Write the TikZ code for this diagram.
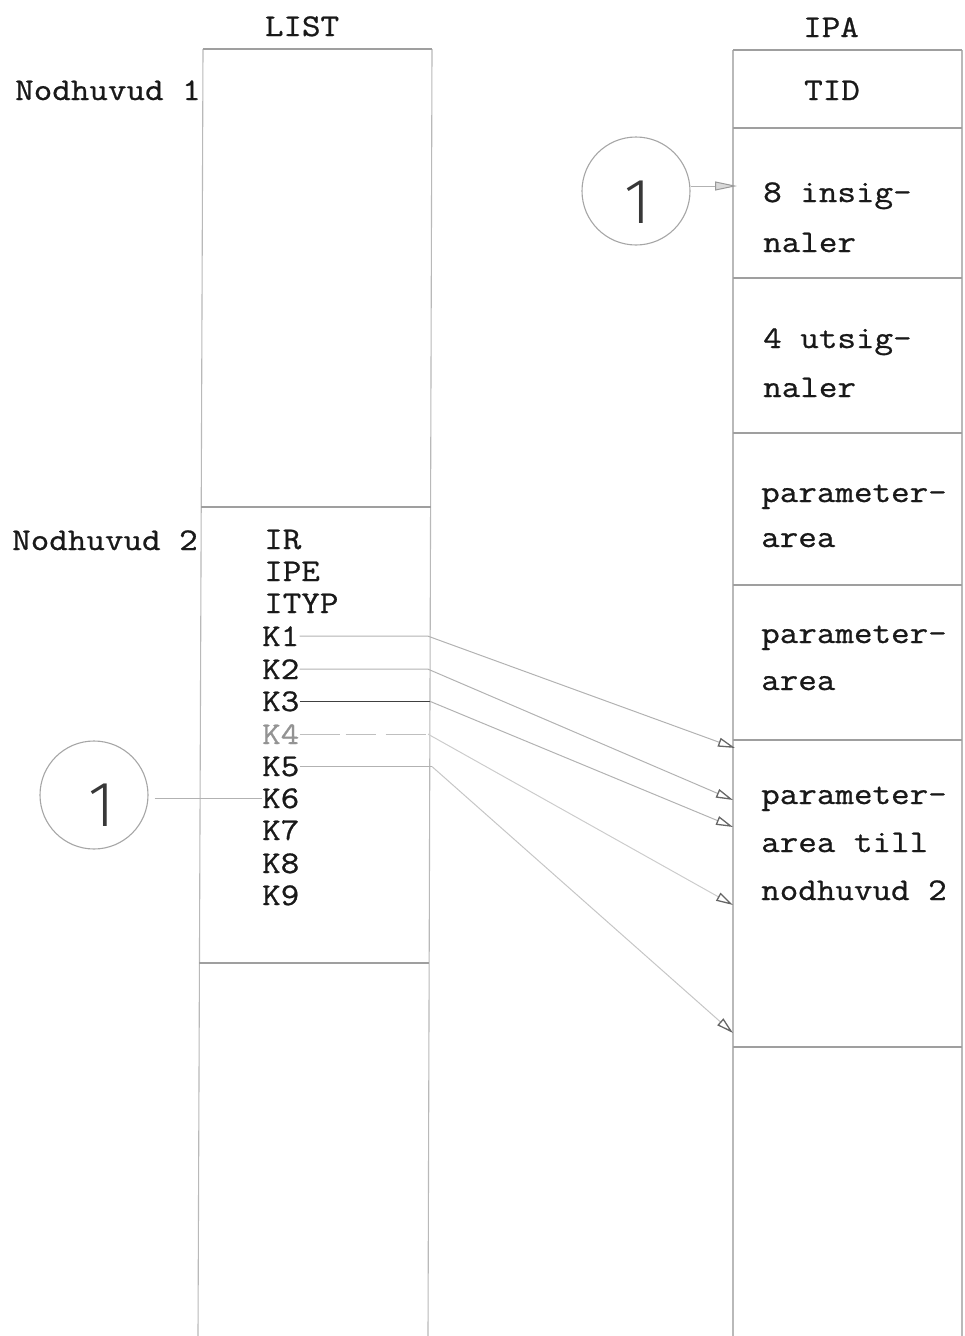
\documentclass[tikz,border=0pt]{standalone}
\usepackage{fontspec}
\setmainfont{Latin Modern Mono}[FakeBold=0.8, FakeStretch=1.14]
\IfFontExistsTF{Fira Sans Light}{\newfontfamily\handfont{Fira Sans Light}}{\newfontfamily\handfont{Fira Sans}}
\usetikzlibrary{arrows.meta}

\tikzset{
  frame/.style={draw=gray!55, line width=1.1pt},
  rule/.style={draw=gray!75, line width=1.3pt},
  txt/.style={inner sep=0pt, anchor=base west, text=black!90,
              font=\fontsize{31.6pt}{34pt}\selectfont},
  ctxt/.style={txt, anchor=base},
  ring/.style={circle, draw=gray!70, line width=1.1pt, minimum size=108pt, inner sep=0pt},
  digit/.style={inner sep=0pt, text=black!78, font=\handfont\fontsize{64pt}{64pt}\selectfont},
  wire/.style={draw=gray!60, line width=1pt},
  ptr/.style={wire, -{Triangle[open, length=17pt, width=9pt, line width=1.3pt, color=gray!80!black]}},
}

\begin{document}
\begin{tikzpicture}[x=1pt, y=-1pt]
\useasboundingbox (0,0) rectangle (964,1336);

% ---- LIST column ----
\draw[frame] (203,49) -- (198,1336);
\draw[frame] (432,49) -- (428,1336);
\draw[rule] (203,49) -- (432,49);
\draw[rule] (201,507) -- (431,507);
\draw[rule] (199,963) -- (429,963);

% ---- IPA column ----
\draw[frame] (733,50) -- (733,1336);
\draw[frame] (962,50) -- (962,1336);
\foreach \y in {50,128,278,433,585,740,1047}
  \draw[rule] (733,\y) -- (962,\y);

% ---- headings ----
\node[ctxt] (list) at (302,36) {LIST};
\node[ctxt] (ipa)  at (831,37) {IPA};
\node[txt] (nh1) at (15,100) {Nodhuvud 1};
\node[txt] (nh2) at (12,550) {Nodhuvud 2};

% ---- IPA fields ----
\node[ctxt] (tid) at (832,100) {TID};
\node[txt] (ins1) at (763,202) {8 insig-};
\node[txt] (ins2) at (763,252) {naler};
\node[txt] (uts1) at (763,348) {4 utsig-};
\node[txt] (uts2) at (763,397) {naler};
\node[txt] (pa1)  at (761,502) {parameter-};
\node[txt] (pa1b) at (761,547) {area};
\node[txt] (pa2)  at (761,643) {parameter-};
\node[txt] (pa2b) at (761,690) {area};
\node[txt] (pa3)  at (761,804) {parameter-};
\node[txt] (pa3b) at (761,852) {area till};
\node[txt] (pa3c) at (761,900) {nodhuvud 2};

% ---- node head 2 entries ----
\node[txt] (ir)   at (264,549) {IR};
\node[txt] (ipe)  at (264,581) {IPE};
\node[txt] (ityp) at (264,613) {ITYP};
\node[txt] (k1) at (262,646) {K1};
\node[txt] (k2) at (262,679) {K2};
\node[txt] (k3) at (262,711) {K3};
\node[txt, text=gray!85] (k4) at (262,744) {K4};
\node[txt] (k5) at (262,776) {K5};
\node[txt] (k6) at (262,808) {K6};
\node[txt] (k7) at (262,840) {K7};
\node[txt] (k8) at (262,873) {K8};
\node[txt] (k9) at (262,905) {K9};

% ---- reference circles ----
\node[ring] (c1) at (636,191) {};
\node[digit] (d1) at ([shift={(2,11)}]c1.center) {1};
\node[ring] (c2) at (94,795) {};
\node[digit] (d2) at ([shift={(8,10)}]c2.center) {1};

% ---- connector bends and ends ----
\coordinate (bend) at (428,0);
\coordinate (t0) at (737,186);
\coordinate (t1) at (735,748);
\coordinate (t2) at (733,800);
\coordinate (t3) at (733,827);
\coordinate (t4) at (733,905);
\coordinate (t5) at (733,1033);

\draw[wire, -{Triangle[length=22pt, width=9pt, line width=1pt, color=gray!80, fill=gray!30]}]
  (c1.east |- t0) -- (t0);
\draw[wire] ([xshift=6pt]c2.east |- k6.west) -- (k6.west);

\draw[ptr] (k1.east) -- (k1.east -| bend) -- (t1);
\draw[ptr] (k2.east) -- (k2.east -| bend) -- (t2);
\draw[draw=black!75, line width=1.2pt] (k3.east) -- ([xshift=2pt]k3.east -| bend);
\draw[ptr] ([xshift=2pt]k3.east -| bend) -- (t3);
\draw[wire, draw=gray!50, dash pattern=on 40pt off 6pt on 30pt off 10pt] (k4.east) -- (k4.east -| bend);
\draw[ptr, draw=gray!40] (k4.east -| bend) -- (t4);
\draw[wire] (k5.east) -- ([xshift=4pt]k5.east -| bend);
\draw[ptr, draw=gray!45] ([xshift=4pt]k5.east -| bend) -- (t5);
\end{tikzpicture}
\end{document}
